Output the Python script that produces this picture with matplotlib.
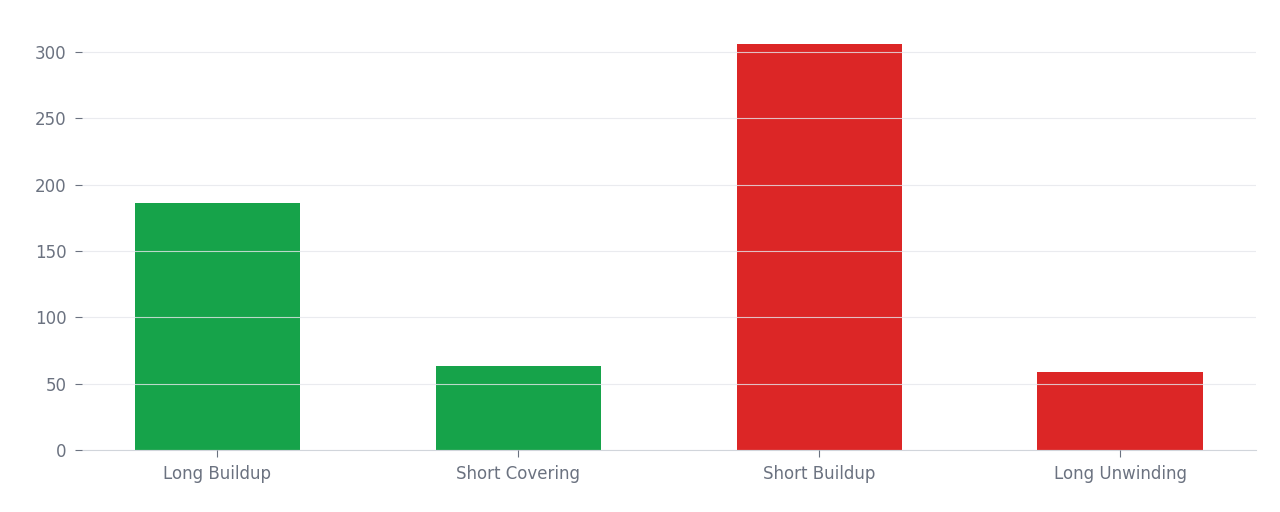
import matplotlib
matplotlib.use("Agg")
import matplotlib.pyplot as plt

categories = ["Long Buildup", "Short Covering", "Short Buildup", "Long Unwinding"]
values = [186, 63, 306, 59]
colors = ["#16a34a", "#16a34a", "#dc2626", "#dc2626"]

fig = plt.figure(figsize=(12.8, 5.12), dpi=100)
ax = fig.add_axes([0.064, 0.121, 0.917, 0.832])
ax.bar(range(len(categories)), values, width=0.55, color=colors, zorder=1)
ax.set_xlim(-0.45, 3.45)
ax.set_ylim(0, 321)
ax.set_yticks([0, 50, 100, 150, 200, 250, 300])
ax.set_xticks(range(len(categories)))
ax.set_xticklabels(categories)
ax.grid(axis="y", color="#e5e7eb", linewidth=0.8, alpha=0.8, zorder=2)
ax.set_axisbelow(False)
for s in ["top", "right", "left"]:
    ax.spines[s].set_visible(False)
ax.spines["bottom"].set_color("#d1d5db")
ax.tick_params(colors="#6b7280", labelsize=12, length=5)
ax.tick_params(axis="x", pad=6)
ax.tick_params(axis="y", pad=6)
fig.savefig("out.png", dpi=100)
